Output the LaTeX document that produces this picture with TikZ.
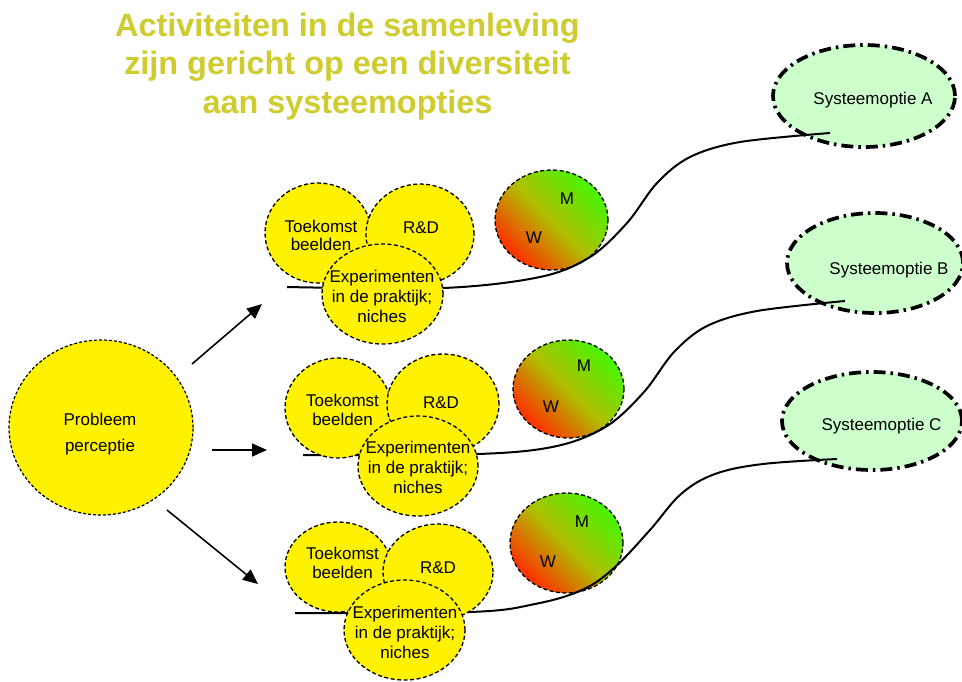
\documentclass[tikz,border=0pt]{standalone}
\usepackage{fontspec}
\setmainfont{Liberation Sans}
\usetikzlibrary{shapes.geometric,arrows.meta}

\definecolor{titleolive}{RGB}{206,204,46}
\definecolor{optiongreen}{RGB}{204,255,204}
\definecolor{hotred}{RGB}{255,45,0}
\definecolor{freshgreen}{RGB}{70,245,0}
\definecolor{olivemid}{RGB}{175,192,0}

\begin{document}
\begin{tikzpicture}[x=1pt,y=-1pt,
  lbl/.style={font=\fontsize{17}{19}\selectfont, text=black, inner sep=0pt, align=center},
  titleline/.style={font=\fontsize{32.4}{38}\bfseries\selectfont, text=titleolive, inner sep=0pt, anchor=base},
  yblob/.style={ellipse, draw=black, fill=yellow, line width=1.3pt, dash pattern=on 4pt off 2.5pt, inner sep=0pt},
  mwblob/.style={ellipse, draw=black, line width=1.3pt, dash pattern=on 4pt off 2.5pt, inner sep=0pt,
                 top color=freshgreen, bottom color=hotred, middle color=olivemid, shading angle=-45},
  optblob/.style={ellipse, draw=black, fill=optiongreen, line width=3.7pt, dash pattern=on 12pt off 5pt on 2.5pt off 5pt, inner sep=0pt},
  route/.style={draw=black, line width=2pt},
  push/.style={draw=black, line width=1.6pt, -{Triangle[length=15pt,width=13pt]}}
]
\useasboundingbox (0,0) rectangle (962,681);

% title
\node[titleline] (title1) at (347.5,36) {Activiteiten in de samenleving};
\node[titleline] (title2) at (347.5,74.5) {zijn gericht op een diversiteit};
\node[titleline] (title3) at (347.5,113) {aan systeemopties};

% system options
\node[optblob, minimum width=182pt, minimum height=102pt] (optA) at (864,96) {};
\node[lbl, anchor=base] (optAtxt) at (873,104) {Systeemoptie A};
\node[optblob, minimum width=176pt, minimum height=100pt] (optB) at (875,263) {};
\node[lbl, anchor=base] (optBtxt) at (889,274) {Systeemoptie B};
\node[optblob, minimum width=180pt, minimum height=98pt] (optC) at (872,421) {};
\node[lbl, anchor=base] (optCtxt) at (881.5,430) {Systeemoptie C};

% W-M ellipses
\node[mwblob, minimum width=113pt, minimum height=100pt] (mw1) at (551.5,220) {};
\node[lbl, anchor=base] (m1) at (567,204) {M};
\node[lbl, anchor=base] (w1) at (534,243) {W};
\node[mwblob, minimum width=111pt, minimum height=98pt] (mw2) at (568.5,389) {};
\node[lbl, anchor=base] (m2) at (584,371) {M};
\node[lbl, anchor=base] (w2) at (551,412) {W};
\node[mwblob, minimum width=113pt, minimum height=100pt] (mw3) at (566.5,543) {};
\node[lbl, anchor=base] (m3) at (582,527) {M};
\node[lbl, anchor=base] (w3) at (548,567) {W};

% development paths towards the system options
\coordinate (p1s) at (287,287);
\coordinate (p1e) at (830,133);
\coordinate (p2s) at (303,455);
\coordinate (p2e) at (845,301);
\coordinate (p3s) at (295,613);
\coordinate (p3e) at (837,459);
\draw[route] plot[smooth, tension=0.55] coordinates {(p1s) (443,288) (540,277) (590,257) (627,223) (657,183) (690,157) (740,142) (p1e)};
\draw[route] plot[smooth, tension=0.55] coordinates {(p2s) (478,454) (557,446) (607,426) (644,392) (674,352) (707,326) (757,311) (p2e)};
\draw[route] plot[smooth, tension=0.6] coordinates {(p3s) (470,612) (535,604) (582,590) (614,568) (650,530) (681,494) (715,474) (763,464) (p3e)};

% activity clusters
\node[yblob, minimum width=106pt, minimum height=100pt] (toek1) at (318,233) {};
\node[lbl, font=\fontsize{17}{18}\selectfont] (toek1txt) at (321,235) {Toekomst\\beelden};
\node[yblob, minimum width=108pt, minimum height=100pt] (rd1) at (420,234) {};
\node[lbl, anchor=base] (rd1txt) at (421,233) {R\&D};
\node[yblob, minimum width=121pt, minimum height=100pt] (exp1) at (382.5,294) {};
\node[lbl, font=\fontsize{17}{20}\selectfont] (exp1txt) at (382,296) {Experimenten\\in de praktijk;\\niches};

\node[yblob, minimum width=106pt, minimum height=100pt] (toek2) at (338,408) {};
\node[lbl] (toek2txt) at (342.5,410) {Toekomst\\beelden};
\node[yblob, minimum width=112pt, minimum height=100pt] (rd2) at (443,404) {};
\node[lbl, anchor=base] (rd2txt) at (441,408) {R\&D};
\node[yblob, minimum width=120pt, minimum height=100pt] (exp2) at (418,466) {};
\node[lbl, font=\fontsize{17}{20}\selectfont] (exp2txt) at (418,467) {Experimenten\\in de praktijk;\\niches};

\node[yblob, minimum width=106pt, minimum height=90pt] (toek3) at (338,567) {};
\node[lbl] (toek3txt) at (342.5,563) {Toekomst\\beelden};
\node[yblob, minimum width=110pt, minimum height=96pt] (rd3) at (438,572) {};
\node[lbl, anchor=base] (rd3txt) at (438,573) {R\&D};
\node[yblob, minimum width=121pt, minimum height=100pt] (exp3) at (404.5,630) {};
\node[lbl, font=\fontsize{17}{20}\selectfont] (exp3txt) at (405,632) {Experimenten\\in de praktijk;\\niches};

% problem perception
\node[ellipse, draw=black, fill=yellow, line width=1.2pt, dash pattern=on 3pt off 2pt, inner sep=0pt,
      minimum width=184pt, minimum height=175pt] (prob) at (101,427.5) {};
\node[lbl, font=\fontsize{17}{26}\selectfont] (probtxt) at (100,433.6) {Probleem\\perceptie};

% arrows
\coordinate (a1s) at (192,364);
\coordinate (a1e) at (262,304);
\coordinate (a2s) at (212,450);
\coordinate (a2e) at (267,450);
\coordinate (a3s) at (167,510);
\coordinate (a3e) at (258,584);
\draw[push] (a1s) -- (a1e);
\draw[push] (a2s) -- (a2e);
\draw[push] (a3s) -- (a3e);
\end{tikzpicture}
\end{document}
